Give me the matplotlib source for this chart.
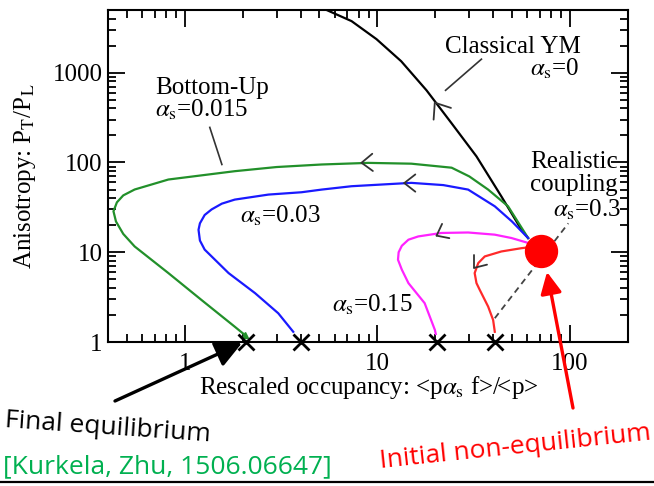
import numpy as np
import matplotlib
matplotlib.use("Agg")
import matplotlib.pyplot as plt
from matplotlib.lines import Line2D

# ---------------- data ----------------
black_x = [60.6, 56, 44, 32.7, 24.3, 18.0, 13.3, 9.9, 7.35, 5.32, 4.56]
black_y = [14.4, 17.8, 42, 117, 273, 637, 1343, 2367, 3758, 5120, 5820]

green_x = [60.6, 47.7, 37.6, 30, 24.3, 15, 8.97, 5.14, 3.0, 1.82, 0.823, 0.55,
           0.48, 0.445, 0.427, 0.44, 0.48, 0.55, 0.823, 1.22, 1.82, 2.05]
green_y = [14.4, 32.5, 49.9, 70, 87.5, 97, 99, 95, 89, 80, 64.6, 50,
           43, 36, 28.6, 22, 16, 11.6, 5.86, 2.95, 1.48, 1.2]

blue_x = [60.6, 50, 40.7, 29.6, 22, 15, 7.35, 5.14, 4.04, 2.72, 1.82, 1.56, 1.38,
          1.27, 1.2, 1.18, 1.2, 1.27, 1.69, 2.32, 3.06, 3.66]
blue_y = [14.4, 22, 32.5, 49.9, 56, 59.3, 54.4, 49.9, 46.6, 43.9, 38.6, 34.8, 30,
          26, 21, 17.8, 13.5, 10.7, 5.86, 3.5, 2.09, 1.3]

magenta_x = [60.6, 49.7, 40.7, 29.6, 21.5, 16.3, 14.5, 13.4, 12.9, 12.8, 13.4,
             14.5, 17.6, 19.9, 20.1]
magenta_y = [12.7, 14.4, 15.7, 16.6, 16.4, 15.0, 13.8, 11.8, 10.0, 8.25, 6.4,
             4.53, 2.71, 1.36, 1.23]

red_x = [60, 56, 44, 36.1, 33.4, 32.0, 32.7, 34, 37.6, 39.9, 40.7]
red_y = [11.3, 11.1, 10.2, 8.98, 7.57, 5.86, 4.53, 3.81, 2.48, 1.76, 1.3]

# equilibrium end points (crosses)
equil_x = [2.07, 4.04, 20.3, 40.7]
equil_y = [1, 1, 1, 1]

# initial condition
init_x = [70.5]
init_y = [10.4]

# dashed line (alpha_s = 0.3 direction)
dash_x = [40.7, 98]
dash_y = [1.84, 21]

# arrow heads on curves: tip position and direction (screen degrees)
arrow_x = [19.87, 8.28, 13.8, 20.3, 31.9]
arrow_y = [464, 99.3, 59, 15.3, 6.71]
arrow_ang = [124, 182, 180, 207, 232]
arrow_len = [17, 14, 14, 13, 13]

# label pointer lines
ptr_classical_x = [34.7, 22.6]
ptr_classical_y = [1416, 637]
ptr_bottom_x = [1.35, 1.56]
ptr_bottom_y = [246, 95]

x_ticks = [1, 10, 100]
x_ticklabels = ["1", "10", "100"]
y_ticks = [1, 10, 100, 1000]
y_ticklabels = ["1", "10", "100", "1000"]

# ---------------- figure ----------------
W, H = 654, 486
plt.rcParams["mathtext.fontset"] = "stix"
SERIF = "Liberation Serif"
SANS = "Open Sans"
FS = 18

fig = plt.figure(figsize=(W / 100, H / 100), dpi=100)
ax = fig.add_axes([108 / W, 1 - 342 / H, (628 - 108) / W, (342 - 10) / H])
ax.set_xscale("log")
ax.set_yscale("log")
ax.set_xlim(0.4, 200)
ax.set_ylim(1, 5000)

for sp in ax.spines.values():
    sp.set_linewidth(1.5)

ax.set_xticks(x_ticks)
ax.set_xticklabels(x_ticklabels)
ax.set_yticks(y_ticks)
ax.set_yticklabels(y_ticklabels)
ax.tick_params(which="both", direction="in", top=True, right=True, width=1.3)
ax.tick_params(which="major", length=12, labelsize=FS)
ax.tick_params(which="minor", length=6)
ax.tick_params(axis="x", which="major", pad=8)
ax.tick_params(axis="y", which="major", pad=4)
for lab in ax.get_xticklabels() + ax.get_yticklabels():
    lab.set_fontfamily(SERIF)

lw = 1.6
ax.plot(black_x, black_y, color="black", lw=lw, zorder=3)
ax.plot(green_x, green_y, color="#22902a", lw=lw, zorder=3)
ax.plot(green_x[-1:], green_y[-1:], marker="^", color="#22902a", ms=5, zorder=3)
ax.plot(blue_x, blue_y, color="#1a1aff", lw=lw, zorder=3)
ax.plot(magenta_x, magenta_y, color="#ff22ff", lw=lw, zorder=3)
ax.plot(red_x, red_y, color="#ff2a2a", lw=lw, zorder=3)
ax.plot(dash_x, dash_y, color="#444444", lw=1.3, ls=(0, (3.5, 2.5)), zorder=2)
ax.plot(equil_x, equil_y, ls="none", marker="x", color="black", ms=11, mew=2,
        clip_on=False, zorder=5)
ax.plot(init_x, init_y, ls="none", marker="o", color="#ff0000", ms=23, zorder=6)

ax.plot(ptr_classical_x, ptr_classical_y, color="#333333", lw=1.2)
ax.plot(ptr_bottom_x, ptr_bottom_y, color="#333333", lw=1.2)

# chevron arrow heads
T = ax.transData
for x, y, ang, L in zip(arrow_x, arrow_y, arrow_ang, arrow_len):
    px, py = T.transform((x, y))
    a = np.deg2rad(ang)
    for s in (1, -1):
        b = a + np.pi + s * np.deg2rad(38)
        ex, ey = px + L * np.cos(b), py + L * np.sin(b)
        d0 = T.inverted().transform((px, py))
        d1 = T.inverted().transform((ex, ey))
        ax.plot([d1[0], d0[0]], [d1[1], d0[1]], color="#333333", lw=1.3,
                solid_capstyle="round", zorder=4)


def ftxt(px, py, s, **kw):
    kw.setdefault("family", SERIF)
    kw.setdefault("fontsize", FS)
    kw.setdefault("va", "baseline")
    kw.setdefault("ha", "left")
    return fig.text(px / W, 1 - py / H, s, **kw)


ftxt(155, 94, "Bottom-Up")
ftxt(155, 117, r"$\alpha_{\rm s}$=0.015")
ftxt(240, 223, r"$\alpha_{\rm s}$=0.03")
ftxt(445, 53, "Classical YM")
ftxt(530, 76, r"$\alpha_{\rm s}$=0")
ftxt(530, 168, "Realistic")
ftxt(530, 191, "coupling")
ftxt(553, 217, r"$\alpha_{\rm s}$=0.3")
ftxt(332, 312, r"$\alpha_{\rm s}$=0.15")

# axis labels
ftxt(25, 176, r"Anisotropy: P$_{\rm T}$/P$_{\rm L}$", rotation=90, ha="center",
     va="center")
ftxt(369, 394, r"Rescaled occupancy: <p$\alpha_{\rm s}$ f>/<p>", ha="center",
     va="baseline")

# outside annotations
ftxt(108, 428, "Final equilibrium", family=SANS, fontsize=19, rotation=-4,
     ha="center", va="center", rotation_mode="anchor", color="black")
ftxt(167, 467, "[Kurkela, Zhu, 1506.06647]", family=SANS, fontsize=19,
     ha="center", va="center", color="#00b050")
ftxt(515, 447, "Initial non-equilibrium", family=SANS, fontsize=19, rotation=6,
     ha="center", va="center", rotation_mode="anchor", color="#ff0000")

ax.annotate("", xy=(242, H - 343), xytext=(115, H - 401),
            xycoords="figure pixels", textcoords="figure pixels",
            arrowprops=dict(arrowstyle="-|>,head_length=0.8,head_width=0.4",
                            color="black", lw=2.4, mutation_scale=20,
                            shrinkA=0, shrinkB=0), annotation_clip=False)
ax.annotate("", xy=(547, H - 272), xytext=(573, H - 408),
            xycoords="figure pixels", textcoords="figure pixels",
            arrowprops=dict(arrowstyle="-|>,head_length=0.65,head_width=0.32",
                            color="#ff0000", lw=2.4, mutation_scale=20,
                            shrinkA=0, shrinkB=0), annotation_clip=False)

fig.add_artist(Line2D([0, 1], [4 / H, 4 / H], color="black", lw=1.6,
                      transform=fig.transFigure))

fig.savefig("out.png", dpi=100)
